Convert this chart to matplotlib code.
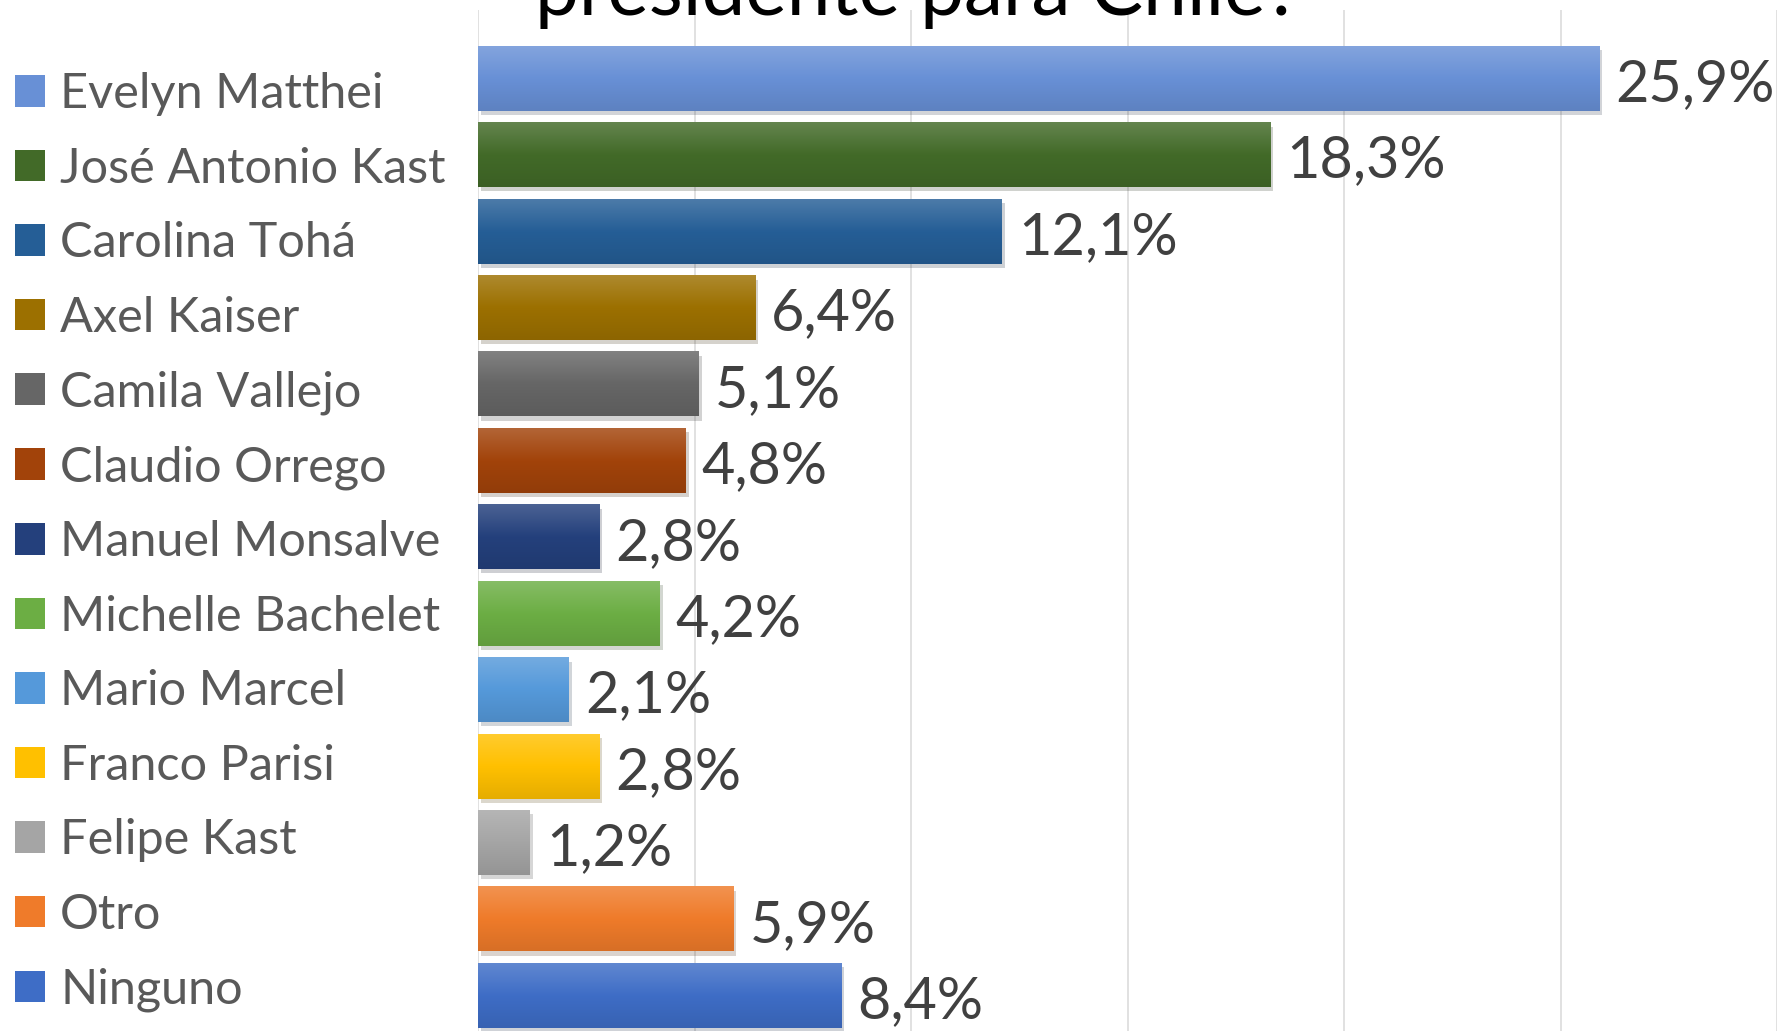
import numpy as np
import matplotlib
matplotlib.use('Agg')
import matplotlib.pyplot as plt
import matplotlib.colors as mcolors
import matplotlib.patheffects as pe
from matplotlib.patches import Rectangle

plt.rcParams['font.family'] = ['Lato', 'DejaVu Sans']

candidatos = ['Evelyn Matthei', 'José Antonio Kast', 'Carolina Tohá', 'Axel Kaiser',
              'Camila Vallejo', 'Claudio Orrego', 'Manuel Monsalve', 'Michelle Bachelet',
              'Mario Marcel', 'Franco Parisi', 'Felipe Kast', 'Otro', 'Ninguno']
porcentajes = [25.9, 18.3, 12.1, 6.4, 5.1, 4.8, 2.8, 4.2, 2.1, 2.8, 1.2, 5.9, 8.4]
colores = ['#6890d6', '#426a28', '#255e96', '#9c7000', '#666666', '#a2430a', '#24407c',
           '#6cae44', '#5599da', '#ffc000', '#a5a5a5', '#ef7b2a', '#3e6dc6']
titulo = 'presidente para Chile?'

W, H = 1779, 1031
fig = plt.figure(figsize=(W / 100, H / 100), dpi=100)
ax = fig.add_axes([478 / W, 0, (1777 - 478) / W, (H - 10) / H])

alto = 0.846
y = np.arange(len(candidatos))

bars = ax.barh(y, porcentajes, height=alto, color=colores, zorder=2)
for b in bars:
    b.set_path_effects([pe.SimplePatchShadow(offset=(2, -3), alpha=0.2), pe.Normal()])

# degradado vertical en cada barra (claro arriba, oscuro abajo)
t = np.linspace(0, 1, 128)
for yi, v, c in zip(y, porcentajes, colores):
    rgb = np.array(mcolors.to_rgb(c))
    top = rgb + (1 - rgb) * 0.18
    bot = rgb * 0.9
    grad = np.stack([np.interp(t, [0, 0.5, 1], [top[k], rgb[k], bot[k]]) for k in range(3)], axis=-1)
    ax.imshow(grad[:, None, :], extent=(0, v, yi + alto / 2, yi - alto / 2), origin='upper',
              aspect='auto', zorder=3, interpolation='bilinear')

for yi, v in zip(y, porcentajes):
    ax.annotate(f'{v:.1f}%'.replace('.', ','), xy=(v, yi), xytext=(11.5, -4.5),
                textcoords='offset points', va='center', ha='left',
                fontsize=41.5, color='#404040', zorder=4)

ax.set_xlim(0, 30)
ax.set_ylim(12.465, -0.895)
ax.set_xticks(np.arange(0, 31, 5))
ax.grid(axis='x', color='#d9d9d9', linewidth=1.1, zorder=0)
ax.tick_params(left=False, bottom=False, labelleft=False, labelbottom=False)
for s in ax.spines.values():
    s.set_visible(False)

handles = [Rectangle((0, 0), 1, 1, facecolor=c) for c in colores]
fig.legend(handles, candidatos, loc='upper left', bbox_to_anchor=(15 / W, 1 - 72 / H),
           frameon=False, fontsize=35, labelcolor='#595959', borderpad=0, borderaxespad=0,
           handlelength=0.617, handleheight=0.617, handletextpad=0.31, labelspacing=0.628)

fig.text(918 / W, 1 - 15 / H, titulo, ha='center', va='baseline', fontsize=56.5, color='black')

fig.savefig('out.png', dpi=100)
